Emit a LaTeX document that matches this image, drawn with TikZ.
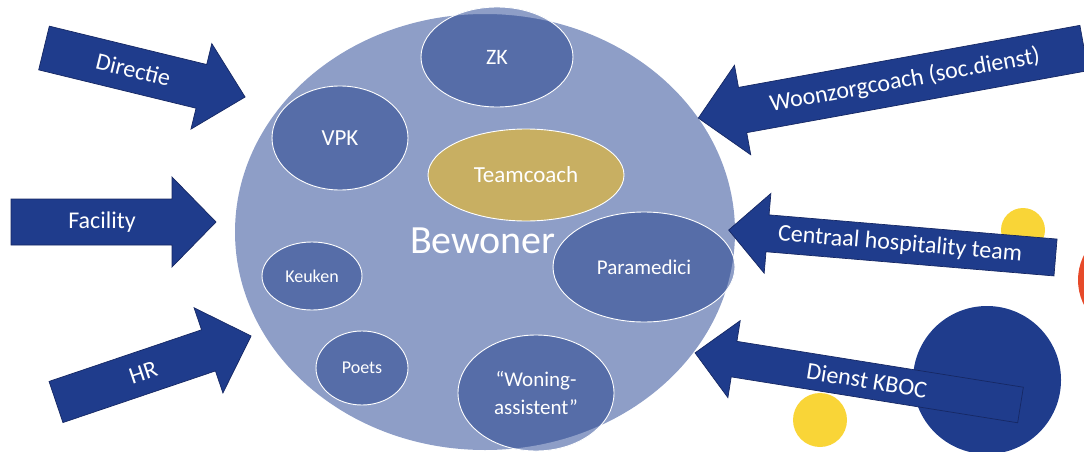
\documentclass[tikz,border=0pt]{standalone}
\usepackage{fontspec}
\setmainfont{Carlito}
\usetikzlibrary{shapes.geometric}
\definecolor{arrowblue}{RGB}{31,60,140}
\definecolor{arrowedge}{RGB}{22,40,100}
\definecolor{bigfill}{RGB}{142,158,199}
\definecolor{innerfill}{RGB}{86,109,168}
\definecolor{goldfill}{RGB}{200,175,98}
\definecolor{sunyellow}{RGB}{249,213,55}
\definecolor{dotred}{RGB}{230,74,42}
% #1 label options, #2 tail centre, #3 rotation, #4 length, #5 shaft half width,
% #6 head half width, #7 head length, #8 label position, #9 label
\newcommand\blockarrow[9]{%
  \begin{scope}[shift={#2}, rotate=#3]
    \fill[arrowbody] (0,-#5) -- ({#4-#7},-#5) -- ({#4-#7},-#6) -- (#4,0)
      -- ({#4-#7},#6) -- ({#4-#7},#5) -- (0,#5) -- cycle;
    \node[arrowlabel, #1] at (#8,0) {#9};
  \end{scope}}
\tikzset{
  arrowbody/.style={fill=arrowblue, draw=arrowedge, line width=0.7pt, line join=miter},
  arrowlabel/.style={text=white, font=\fontsize{24}{28}\selectfont, transform shape, inner sep=0pt},
  inner/.style={ellipse, fill=innerfill, draw=white, line width=0.9pt, text=white,
    inner sep=0pt, align=center},
  bigcircle/.style={ellipse, fill=bigfill, inner sep=0pt},
}
\begin{document}
\begin{tikzpicture}[x=1pt, y=-1pt]
\useasboundingbox (0,0) rectangle (1084,452);
\clip (0,0) rectangle (1084,452);

% decorative dots
\fill[sunyellow] (1023,230) circle [radius=22];
\fill[dotred] (1133,280) circle [radius=55];
\fill[arrowblue] (987,380) circle [radius=74];
\fill[sunyellow] (820,420) circle [radius=27];

% big circle
\node[bigcircle, minimum width=500pt, minimum height=436pt] (bg) at (485,232) {};
\node[text=white, font=\fontsize{40}{48}\selectfont, anchor=base, inner sep=0pt] (bewoner) at (483,253) {Bewoner};

% inner ellipses
\node[inner, minimum width=152pt, minimum height=100pt, font=\fontsize{22}{26}\selectfont] (zk) at (497,57) {ZK};
\node[inner, minimum width=136pt, minimum height=104pt, font=\fontsize{23}{27}\selectfont] (vpk) at (340,138) {VPK};
\node[inner, fill=goldfill, minimum width=196pt, minimum height=92pt, font=\fontsize{23}{27}\selectfont] (team) at (526,175) {Teamcoach};
\node[inner, minimum width=182pt, minimum height=110pt, font=\fontsize{21}{25}\selectfont] (para) at (644,267) {Paramedici};
\node[inner, minimum width=100pt, minimum height=68pt, font=\fontsize{18}{22}\selectfont] (keuken) at (312,276) {Keuken};
\node[inner, minimum width=92pt, minimum height=74pt, font=\fontsize{18}{22}\selectfont] (poets) at (362,368) {Poets};
\node[inner, minimum width=156pt, minimum height=116pt, font=\fontsize{21}{28}\selectfont] (woning) at (536,393) {“Woning-\\assistent”};

% parts of the ellipses lying outside the big circle
\begin{scope}[even odd rule]
  \clip (-10,-10) rectangle (1094,462) (485,232) ellipse [x radius=250, y radius=218];
  \fill[bigfill] (zk.center) ellipse [x radius=76, y radius=50];
  \fill[bigfill] (para.center) ellipse [x radius=91, y radius=55];
  \fill[bigfill] (woning.center) ellipse [x radius=78, y radius=58];
  \draw[white, line width=0.9pt] (zk.center) ellipse [x radius=76, y radius=50];
  \draw[white, line width=0.9pt] (para.center) ellipse [x radius=91, y radius=55];
  \draw[white, line width=0.9pt] (woning.center) ellipse [x radius=78, y radius=58];
\end{scope}

% arrows
\blockarrow{name=directie}{(44,48)}{-13.7}{207}{22.5}{44}{45}{92}{Directie}
\blockarrow{name=facility}{(11,222)}{0}{205}{23}{45}{44}{91}{Facility}
\blockarrow{name=hr}{(56,402)}{18.7}{206}{21.7}{45}{45}{92}{HR}
\blockarrow{name=woon, rotate=180}{(1084,48)}{190.3}{392}{23}{45.5}{45}{182}{Woonzorgcoach (soc.dienst)}
\blockarrow{name=centraal, rotate=180}{(1055.5,257.5)}{175.2}{328}{18.5}{40}{39}{156}{Centraal hospitality team}
\blockarrow{name=kboc, rotate=180}{(1020.5,405)}{170.9}{329.6}{18}{39}{39.5}{155.6}{Dienst KBOC}
\end{tikzpicture}
\end{document}
